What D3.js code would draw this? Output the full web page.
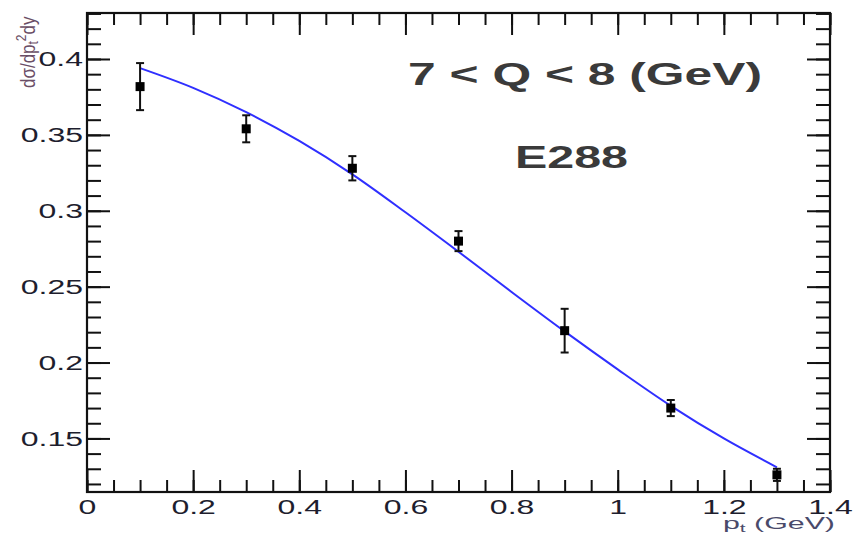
<!DOCTYPE html>
<html>
<head>
<meta charset="utf-8">
<script src="https://cdn.jsdelivr.net/npm/d3@7"></script>
<style>
  body { margin: 0; background: #fff; }
  svg { display: block; font-family: "Liberation Sans", Arial, sans-serif; }
</style>
</head>
<body>
<div id="chart"></div>
<script>
// E288 data points, 7 < Q < 8 GeV
var ptBins  = [0.1, 0.3, 0.5, 0.7, 0.9, 1.1, 1.3];
var xsec    = [0.3818, 0.354, 0.328, 0.280, 0.221, 0.170, 0.126];
var xsecErr = [0.0155, 0.0089, 0.008, 0.0066, 0.0144, 0.0053, 0.004];

// fit curve samples
var fitPt  = [0.1, 0.2, 0.3, 0.4, 0.5, 0.6, 0.7, 0.8, 0.9, 1.0, 1.1, 1.2, 1.3];
var fitVal = [0.394, 0.381, 0.365, 0.346, 0.324, 0.299, 0.273, 0.2465, 0.2205, 0.1955, 0.1715, 0.150, 0.131];

var xTicks = [0, 0.2, 0.4, 0.6, 0.8, 1, 1.2, 1.4];
var yTicks = [0.15, 0.2, 0.25, 0.3, 0.35, 0.4];

var W = 854, H = 535;
var frame = {left: 87, right: 830, top: 13, bot: 492};
var stretch = 1.6; // picture is wider than it is tall

var svg = d3.select("#chart").append("svg")
  .attr("width", W).attr("height", H);

var x = d3.scaleLinear().domain([0, 1.4]).range([frame.left, frame.right]);
var y = d3.scaleLinear().domain([0.1147, 0.4303]).range([frame.bot, frame.top]);

var xMinor = d3.range(0, 1.4001, 0.05);
var yMinor = d3.range(0.12, 0.4301, 0.01);

function styleAxis(g) {
  g.select(".domain").remove();
  g.selectAll(".tick line").attr("stroke", "#111").attr("stroke-width", 2);
}

// minor ticks on all four sides (pointing inward)
svg.append("g").attr("transform", "translate(0," + frame.bot + ")")
  .call(d3.axisBottom(x).tickValues(xMinor).tickSize(-12).tickFormat(""))
  .call(styleAxis);
svg.append("g").attr("transform", "translate(0," + frame.top + ")")
  .call(d3.axisTop(x).tickValues(xMinor).tickSize(-12).tickFormat(""))
  .call(styleAxis);
svg.append("g").attr("transform", "translate(" + frame.left + ",0)")
  .call(d3.axisLeft(y).tickValues(yMinor).tickSize(-14).tickFormat(""))
  .call(styleAxis);
svg.append("g").attr("transform", "translate(" + frame.right + ",0)")
  .call(d3.axisRight(y).tickValues(yMinor).tickSize(-14).tickFormat(""))
  .call(styleAxis);

// major ticks
var xAx = svg.append("g").attr("transform", "translate(0," + frame.bot + ")")
  .call(d3.axisBottom(x).tickValues(xTicks).tickSize(-22).tickPadding(0)
    .tickFormat(function(d) { return +d.toFixed(1); }))
  .call(styleAxis);
svg.append("g").attr("transform", "translate(0," + frame.top + ")")
  .call(d3.axisTop(x).tickValues(xTicks).tickSize(-22).tickFormat(""))
  .call(styleAxis);
var yAx = svg.append("g").attr("transform", "translate(" + frame.left + ",0)")
  .call(d3.axisLeft(y).tickValues(yTicks).tickSize(-23).tickPadding(0)
    .tickFormat(function(d) { return +d.toFixed(2); }))
  .call(styleAxis);
svg.append("g").attr("transform", "translate(" + frame.right + ",0)")
  .call(d3.axisRight(y).tickValues(yTicks).tickSize(-23).tickFormat(""))
  .call(styleAxis);

// tick labels, stretched like the picture
xAx.selectAll(".tick text")
  .attr("y", null).attr("dy", null)
  .attr("transform", "translate(0,22) scale(" + stretch + ",1)")
  .attr("font-size", 20).attr("fill", "#1e1e2e");
yAx.selectAll(".tick text")
  .attr("x", null).attr("dy", null)
  .attr("transform", "translate(-4,7) scale(" + stretch + ",1)")
  .attr("font-size", 20).attr("fill", "#1e1e2e");

// frame
svg.append("rect")
  .attr("x", frame.left).attr("y", frame.top)
  .attr("width", frame.right - frame.left).attr("height", frame.bot - frame.top)
  .attr("fill", "none").attr("stroke", "#111").attr("stroke-width", 2.2);

// fit line
var fitData = fitPt.map(function(p, i) { return [p, fitVal[i]]; });
svg.append("path")
  .datum(fitData)
  .attr("d", d3.line().x(function(d) { return x(d[0]); }).y(function(d) { return y(d[1]); })
    .curve(d3.curveCatmullRom))
  .attr("fill", "none").attr("stroke", "#2f2fff").attr("stroke-width", 2);

// data points with error bars
var pts = svg.append("g").selectAll("g")
  .data(ptBins.map(function(p, i) { return {pt: p, v: xsec[i], e: xsecErr[i]}; }))
  .enter().append("g");

pts.append("line")
  .attr("x1", function(d) { return x(d.pt); }).attr("x2", function(d) { return x(d.pt); })
  .attr("y1", function(d) { return y(d.v + d.e); }).attr("y2", function(d) { return y(d.v - d.e); })
  .attr("stroke", "#111").attr("stroke-width", 2);
[1, -1].forEach(function(s) {
  pts.append("line")
    .attr("x1", function(d) { return x(d.pt) - 4; }).attr("x2", function(d) { return x(d.pt) + 4; })
    .attr("y1", function(d) { return y(d.v + s * d.e); }).attr("y2", function(d) { return y(d.v + s * d.e); })
    .attr("stroke", "#111").attr("stroke-width", 2);
});
pts.append("rect")
  .attr("x", function(d) { return x(d.pt) - 4.5; })
  .attr("y", function(d) { return y(d.v) - 4.5; })
  .attr("width", 9).attr("height", 9)
  .attr("fill", "#000");

// labels
svg.append("text")
  .attr("x", 408).attr("y", 85)
  .attr("font-size", 32).attr("font-weight", "bold").attr("fill", "#3a3a3a")
  .attr("textLength", 354).attr("lengthAdjust", "spacingAndGlyphs")
  .text("7 < Q < 8 (GeV)");
svg.append("text")
  .attr("x", 515).attr("y", 168)
  .attr("font-size", 32).attr("font-weight", "bold").attr("fill", "#3a3a3a")
  .attr("textLength", 113).attr("lengthAdjust", "spacingAndGlyphs")
  .text("E288");

// x title
var xt = svg.append("text")
  .attr("x", 723).attr("y", 529)
  .attr("font-size", 16).attr("fill", "#4a4a6a")
  .attr("textLength", 112).attr("lengthAdjust", "spacingAndGlyphs");
xt.append("tspan").text("p");
xt.append("tspan").attr("font-size", 11).attr("dy", 3).text("t");
xt.append("tspan").attr("dy", -3).text(" (GeV)");

// y title, rotated
var ytg = svg.append("g").attr("transform", "translate(35,88) rotate(-90)");
var yt = ytg.append("text")
  .attr("transform", "scale(1,1.15)")
  .attr("font-size", 17).attr("fill", "#6a4e66");
yt.append("tspan").text("d\u03c3/dp");
yt.append("tspan").attr("font-size", 12).attr("dy", 3).text("t");
yt.append("tspan").attr("font-size", 12).attr("dy", -11).text("2");
yt.append("tspan").attr("dy", 8).text("dy");
</script>
</body>
</html>
